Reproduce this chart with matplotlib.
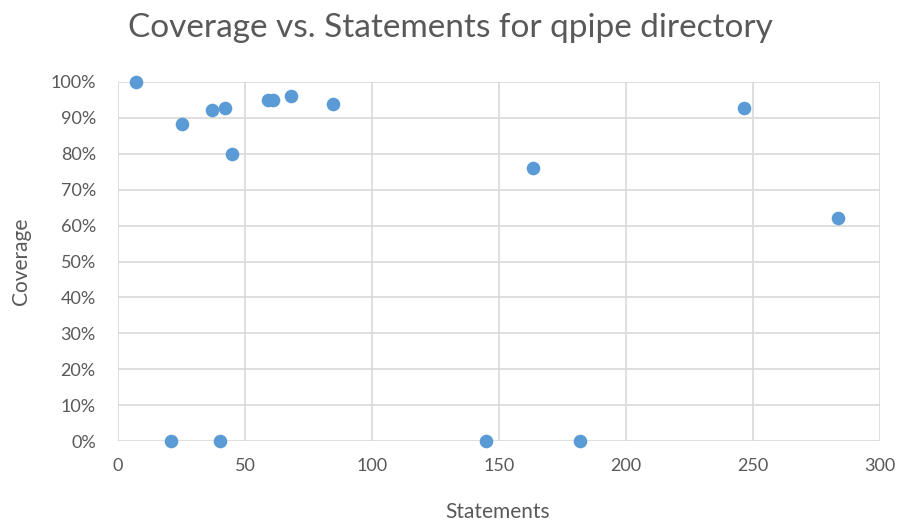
import matplotlib.pyplot as plt
from matplotlib.ticker import PercentFormatter

plt.rcParams['font.family'] = ['Lato', 'DejaVu Sans']

title = 'Coverage vs. Statements for qpipe directory'

# statements per file and their coverage (%)
statements = [7, 25, 37, 42, 45, 59, 61, 68, 84.5, 163.5, 246.5, 283.5, 21, 40, 145, 182]
coverage = [100, 88.3, 92.2, 92.7, 79.9, 95, 95, 96.1, 93.9, 76, 92.7, 62.2, 0, 0, 0, 0]

x_ticks = [0, 50, 100, 150, 200, 250, 300]
y_ticks = [0, 10, 20, 30, 40, 50, 60, 70, 80, 90, 100]

text_color = '#595959'
grid_color = '#D9D9D9'

fig = plt.figure(figsize=(9.02, 5.23), dpi=100)
ax = fig.add_axes([118 / 902, 1 - 441 / 523, 762 / 902, 359 / 523])

ax.plot(statements, coverage, 'o', color='#5B9BD5', markersize=9.8,
        markeredgewidth=0, clip_on=False, zorder=3)

ax.set_xlim(0, 300)
ax.set_ylim(0, 100)
ax.set_xticks(x_ticks)
ax.set_yticks(y_ticks)
ax.yaxis.set_major_formatter(PercentFormatter(decimals=0))

ax.grid(True, color=grid_color, linewidth=1.2)
ax.set_axisbelow(True)
for s in ax.spines.values():
    s.set_visible(False)
ax.tick_params(length=0, labelsize=13, colors=text_color)
ax.tick_params(axis='y', pad=16)
ax.tick_params(axis='x', pad=12)

fig.text(498 / 902, 1 - 512 / 523, 'Statements', fontsize=15, color=text_color,
         ha='center', va='center')
fig.text(21 / 902, 1 - 261 / 523, 'Coverage', fontsize=15, color=text_color,
         ha='center', va='center', rotation=90)
fig.text(450 / 902, 1 - 28 / 523, title, fontsize=24, color=text_color,
         ha='center', va='center')

fig.savefig('out.png', dpi=100)
